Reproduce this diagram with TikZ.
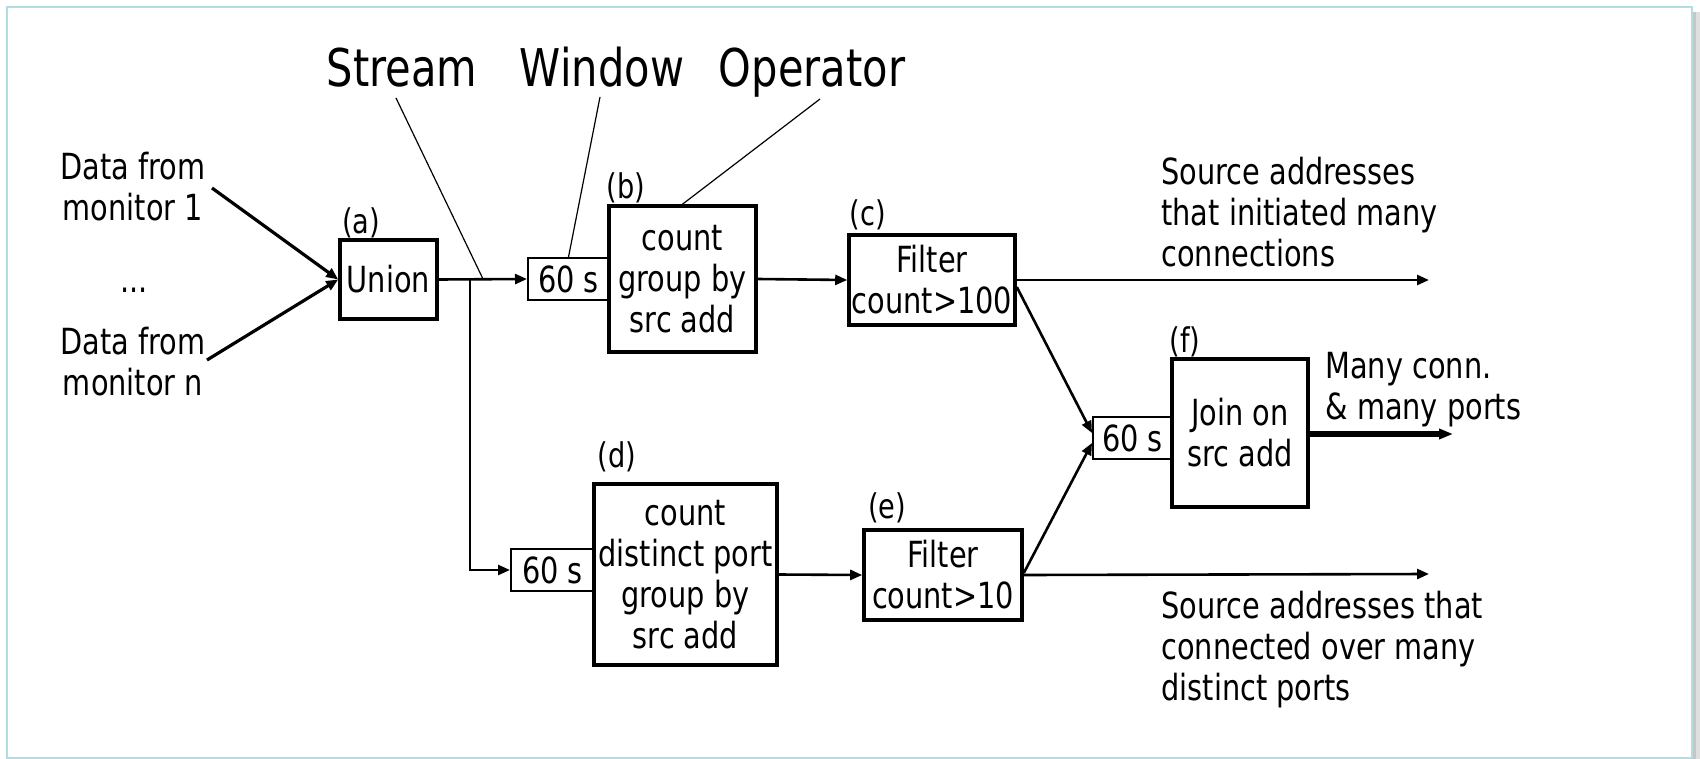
\documentclass[tikz,border=0pt]{standalone}
\usepackage{fontspec}
\setmainfont{DejaVu Sans}[FakeStretch=0.8]
\usetikzlibrary{arrows.meta,calc}
\definecolor{frameC}{HTML}{B4DDE2}
\begin{document}
\begin{tikzpicture}[x=0.5pt,y=-0.5pt,
  txt/.style={font=\fontsize{18}{20.5}\selectfont, inner sep=0pt, align=center},
  ttl/.style={font=\fontsize{26}{30}\selectfont, inner sep=0pt, anchor=base},
  lbl/.style={font=\fontsize{17}{20}\selectfont, inner sep=0pt},
  opbox/.style={txt, draw, line width=1.8pt, fill=white},
  winbox/.style={txt, draw, line width=1pt, minimum width=40pt, minimum height=21pt},
  conn/.style={line width=1.3pt, -{Triangle[length=6pt,width=5pt]}},
  lead/.style={line width=0.6pt}
]
\useasboundingbox (0,0) rectangle (1700,759);
% frame and shadow
\fill[gray!45] (1693,12) rectangle (1700,759);
\fill[gray!25] (1696,12) rectangle (1700,759);
\draw[frameC, line width=1pt] (7,7) rectangle (1692,758);

% title
\node[ttl] (tstream) at (402,87) {Stream};
\node[ttl] (twindow) at (602,87) {Window};
\node[ttl] (toper) at (812,87) {Operator};

% inputs
\node[txt] (d1) at (133,187) {Data from\\monitor 1};
\node[txt] (dots) at (134,290) {...};
\node[txt] (dn) at (133,362) {Data from\\monitor n};

% window boxes (drawn before operator boxes)
\node[winbox, minimum width=40.5pt] (w1) at (568.5,279) {60 s};
\node[winbox, minimum width=41.5pt] (w2) at (552.5,570) {60 s};
\node[winbox, minimum width=39.5pt] (w3) at (1132.5,438) {60 s};

% operator boxes
\node[opbox, minimum width=48.5pt, minimum height=39.5pt] (union) at (388.5,279.5) {Union};
\node[opbox, minimum width=73.5pt, minimum height=73pt] (cb) at (682.5,279) {count\\group by\\src add};
\node[opbox, minimum width=83pt, minimum height=45pt] (fc) at (932,280) {Filter\\count>100};
\node[opbox, minimum width=91.5pt, minimum height=90.5pt] (cd) at (685.5,574.5) {count\\distinct port\\group by\\src add};
\node[opbox, minimum width=79pt, minimum height=45pt] (fe) at (943,575) {Filter\\count>10};
\node[opbox, minimum width=68pt, minimum height=74pt] (join) at (1240,433) {Join on\\src add};

% labels
\node[lbl] (la) at (361,223) {(a)};
\node[lbl] (lb) at (626,188) {(b)};
\node[lbl] (lc) at (868,215) {(c)};
\node[lbl] (ld) at (617,457) {(d)};
\node[lbl] (le) at (887,508) {(e)};
\node[lbl] (lf) at (1185,342) {(f)};

% output texts
\node[txt, align=left, anchor=west] (o1t) at (1161,212) {Source addresses\\that initiated many\\connections};
\node[txt, align=left, anchor=west] (o2t) at (1161,650) {Source addresses that\\connected over many\\distinct ports};
\node[txt, align=left, anchor=west] (o3t) at (1325,390) {Many conn.\\\& many ports};

% coordinates
\coordinate (s1) at (212,188);
\coordinate (sn) at (207,360);
\coordinate (br) at (470,280);
\coordinate (e1) at (1429,280);
\coordinate (e2) at (1429,574);
\coordinate (e3) at (1453,434);
\coordinate (ls) at (396,98);
\coordinate (lsE) at (483,279);
\coordinate (lw) at (600,97);
\coordinate (lo) at (820,99);

% connectors
\draw[conn, line width=1.6pt] (s1) -- (union.west);
\draw[conn, line width=1.6pt] (sn) -- (union.west);
\draw[conn] (union.east) -- (w1.west);
\draw[conn] (br) |- (w2.west);
\draw[conn] (cb.east) -- (fc.west);
\draw[conn] (fc.east) -- (e1);
\draw[conn] ([yshift=-3.5pt]fc.east) -- ([yshift=2.5pt]w3.west);
\draw[conn] (cd.east) -- (fe.west);
\draw[conn] (fe.east) -- (e2);
\draw[conn] ([yshift=1pt]fe.east) -- ([yshift=-2.5pt]w3.west);
\draw[line width=2.6pt, -{Triangle[length=7pt,width=5pt]}] ([yshift=-0.5pt]join.east) -- (e3);

% leaders
\draw[lead] (ls) -- (lsE);
\draw[lead] (lw) -- (w1.north);
\draw[lead] (lo) -- (cb.north);
\end{tikzpicture}
\end{document}
